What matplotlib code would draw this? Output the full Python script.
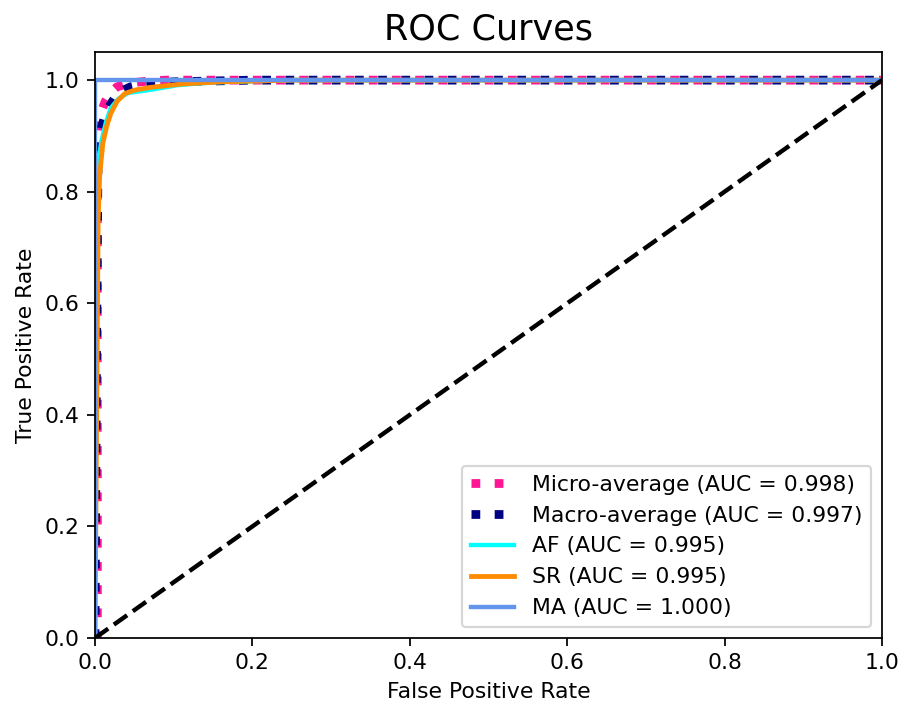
import matplotlib
matplotlib.use("Agg")
import matplotlib.pyplot as plt

# Data
micro_fpr = [0.0, 0.003, 0.003, 0.006, 0.013, 0.020, 0.028, 0.045, 0.065, 0.09, 0.2, 1.0]
micro_tpr = [0.0, 0.0, 0.90, 0.935, 0.962, 0.978, 0.988, 0.995, 0.998, 1.0, 1.0, 1.0]
macro_fpr = [0.0, 0.002, 0.004, 0.008, 0.015, 0.029, 0.045, 0.060, 0.1, 0.2, 1.0]
macro_tpr = [0.0, 0.52, 0.88, 0.915, 0.946, 0.977, 0.988, 0.993, 0.997, 1.0, 1.0]
af_fpr = [0.0, 0.0, 0.003, 0.008, 0.014, 0.020, 0.030, 0.042, 0.057, 0.072, 0.105, 0.15, 0.25, 1.0]
af_tpr = [0.0, 0.60, 0.84, 0.89, 0.925, 0.950, 0.967, 0.977, 0.980, 0.983, 0.991, 0.996, 1.0, 1.0]
sr_fpr = [0.0, 0.004, 0.006, 0.010, 0.015, 0.020, 0.028, 0.038, 0.05, 0.07, 0.11, 0.16, 0.25, 1.0]
sr_tpr = [0.0, 0.75, 0.83, 0.887, 0.918, 0.940, 0.962, 0.976, 0.982, 0.987, 0.993, 0.997, 1.0, 1.0]
ma_fpr = [0.0, 0.0, 1.0]
ma_tpr = [0.0, 1.0, 1.0]

labels = ["Micro-average (AUC = 0.998)", "Macro-average (AUC = 0.997)",
          "AF (AUC = 0.995)", "SR (AUC = 0.995)", "MA (AUC = 1.000)"]

DPI = 157.5
fig = plt.figure(figsize=(902/DPI, 706/DPI), dpi=DPI)
ax = fig.add_axes([0.1053, 0.0963, 0.8725, 0.8297])

ax.plot(micro_fpr, micro_tpr, color="deeppink", linestyle=":", linewidth=4, label=labels[0])
ax.plot(macro_fpr, macro_tpr, color="navy", linestyle=":", linewidth=4, label=labels[1])
ax.plot(af_fpr, af_tpr, color="aqua", linewidth=2, label=labels[2])
ax.plot(sr_fpr, sr_tpr, color="darkorange", linewidth=2.2, label=labels[3])
ax.plot(ma_fpr, ma_tpr, color="cornflowerblue", linewidth=2, label=labels[4])
ax.plot([0, 1], [0, 1], "k--", linewidth=2)

ax.set_xlim(0.0, 1.0)
ax.set_ylim(0.0, 1.05)
ax.set_xlabel("False Positive Rate")
ax.set_ylabel("True Positive Rate")
ax.set_title("ROC Curves", fontsize=16)
ax.legend(loc="lower right")

fig.savefig("out.png", dpi=DPI)
